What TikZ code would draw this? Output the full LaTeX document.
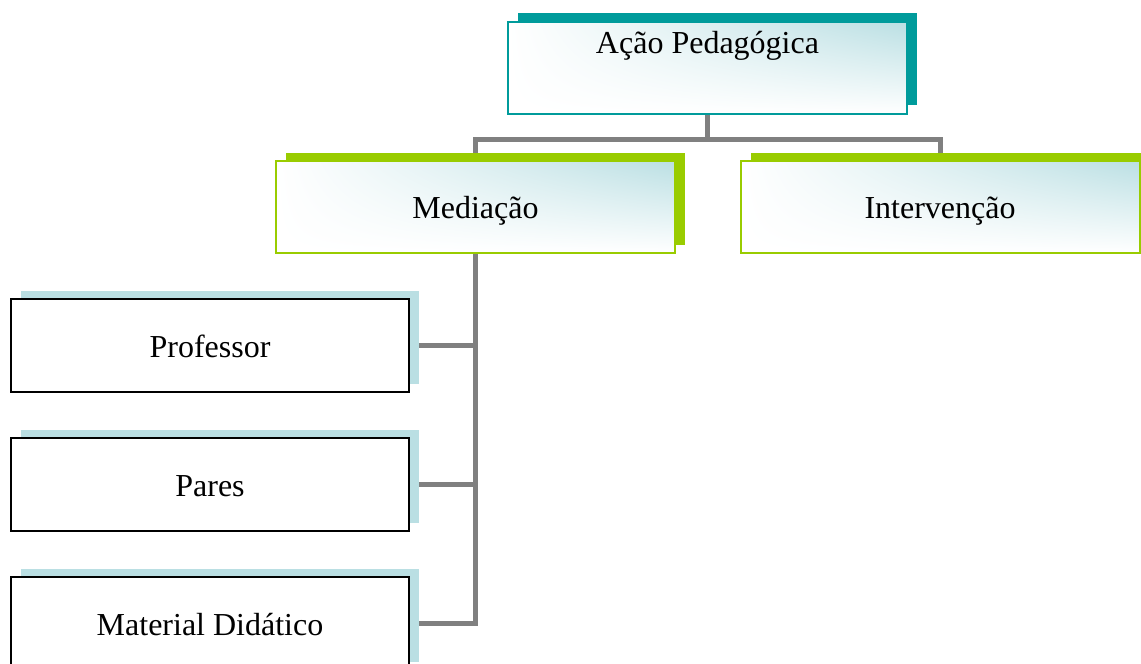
\documentclass[tikz,border=0pt]{standalone}
\usepackage{fontspec}
\setmainfont{Liberation Serif}
\usetikzlibrary{shadows,shadings,backgrounds}
\definecolor{tealdark}{HTML}{009B9B}
\definecolor{limegreen}{HTML}{99CC00}
\definecolor{paleblue}{HTML}{BADFE3}
\definecolor{linkgray}{HTML}{808080}
\begin{document}
\begin{tikzpicture}[x=1pt,y=-1pt,
    box/.style={rectangle, minimum width=399pt, minimum height=92pt, inner sep=4pt,
      font=\fontsize{32}{38}\selectfont, line width=2pt, text height=30pt, text depth=7pt,
      upper left=white, upper right=paleblue, lower left=white, lower right=white},
    topbox/.style={box, draw=tealdark, inner sep=0pt, text depth=60pt,
      drop shadow={shadow xshift=10pt, shadow yshift=9pt, fill=tealdark, opacity=1}},
    midbox/.style={box, draw=limegreen,
      drop shadow={shadow xshift=10pt, shadow yshift=8pt, fill=limegreen, opacity=1}},
    leafbox/.style={rectangle, minimum width=398pt, minimum height=93pt,
      font=\fontsize{32}{38}\selectfont, text height=30pt, text depth=7pt,
      draw=black, fill=white, line width=2pt,
      drop shadow={shadow xshift=10pt, shadow yshift=8pt, fill=paleblue, opacity=1}},
    link/.style={draw=linkgray, line width=5pt}]
  \useasboundingbox (0,0) rectangle (1141,664);
  \node[topbox] (acao) at (707.5,68) {Ação Pedagógica};
  \node[midbox] (med) at (475.5,206.5) {Mediação};
  \node[midbox] (interv) at (940,206.5) {Intervenção};
  \node[leafbox] (prof) at (210,345.5) {Professor};
  \node[leafbox] (pares) at (210,484.5) {Pares};
  \node[leafbox] (mat) at (210,623.5) {Material Didático};
  \begin{scope}[on background layer]
    \draw[link] (acao.south) -- ++(0,24) -| (med.north);
    \draw[link] (acao.south) -- ++(0,24) -| (interv.north);
    \draw[link] (med.south) |- (prof.east);
    \draw[link] (med.south) |- (pares.east);
    \draw[link] (med.south) |- (mat.east);
  \end{scope}
\end{tikzpicture}
\end{document}
